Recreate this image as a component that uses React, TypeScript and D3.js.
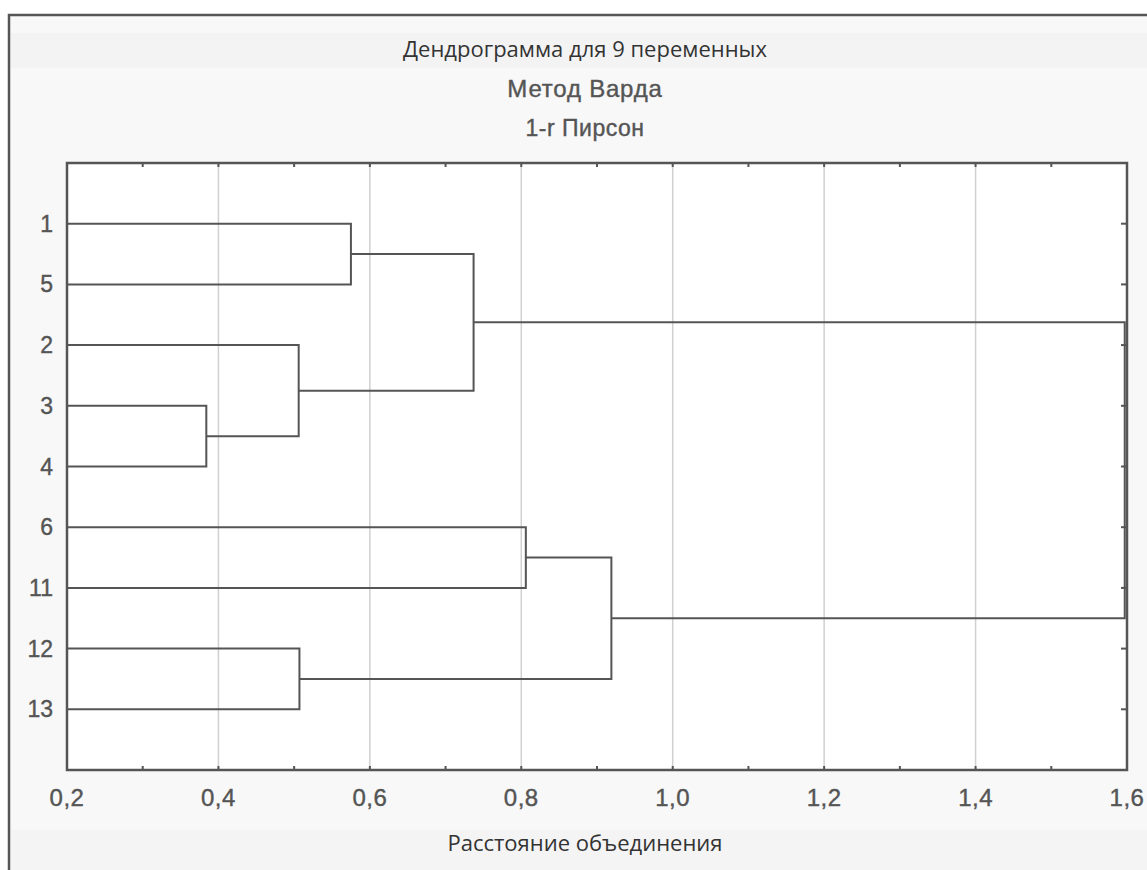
import React from 'react'
import * as d3 from 'd3'

// leaf order as drawn top to bottom
const leafLabels = ['1', '5', '2', '3', '4', '6', '11', '12', '13']

// linkage: node ids 0..8 are leaves, each merge creates id 9, 10, ...
const mergeLeft = [0, 3, 2, 9, 5, 7, 13, 12]
const mergeRight = [1, 4, 10, 11, 6, 8, 14, 15]
const mergeHeight = [0.575, 0.384, 0.506, 0.737, 0.806, 0.507, 0.919, 1.597]

const xTicks = [0.2, 0.4, 0.6, 0.8, 1.0, 1.2, 1.4, 1.6]
const xMinor = [0.3, 0.5, 0.7, 0.9, 1.1, 1.3, 1.5]

const titleLines = ['Дендрограмма для 9 переменных', 'Метод Варда', '1-r Пирсон']
const xTitle = 'Расстояние объединения'

const W = 1147
const H = 870
const plot = { left: 67, right: 1127, top: 163, bottom: 770 }

const LINE = '#555'
const fmt = (v: number) => v.toFixed(1).replace('.', ',')

export default function App() {
  const x = d3.scaleLinear().domain([0.2, 1.6]).range([plot.left, plot.right])
  const y = d3.scaleLinear().domain([0, leafLabels.length + 1]).range([plot.top, plot.bottom])

  // node positions
  const nodes: { x: number; y: number }[] = leafLabels.map((_, i) => ({ x: x(0.2), y: y(i + 1) }))
  const links: string[] = []
  mergeHeight.forEach((h, i) => {
    const a = nodes[mergeLeft[i]]
    const b = nodes[mergeRight[i]]
    const mx = x(h)
    const path = d3.path()
    path.moveTo(a.x, a.y)
    path.lineTo(mx, a.y)
    path.lineTo(mx, b.y)
    path.lineTo(b.x, b.y)
    links.push(path.toString())
    nodes.push({ x: mx, y: (a.y + b.y) / 2 })
  })

  const cx = 585
  const arial = "'Liberation Sans', Arial, sans-serif"
  return (
    <svg width={W} height={H} style={{ position: 'absolute', left: 0, top: 0, background: '#fff' }}>
      <rect x={9} y={15} width={W + 20} height={H + 20} fill="#f8f8f8" stroke={LINE} strokeWidth={2.5} />
      <rect x={11} y={33} width={W} height={35} fill="#f3f3f3" />
      <rect x={11} y={830} width={W} height={50} fill="#f4f4f4" />

      <text x={cx} y={57} textAnchor="middle" fontFamily="'Open Sans', sans-serif" fontSize={22} fill="#333">
        {titleLines[0]}
      </text>
      <text x={cx} y={97} textAnchor="middle" fontFamily={arial} fontSize={24} letterSpacing={0.8} fill="#555" stroke="#555" strokeWidth={0.4}>
        {titleLines[1]}
      </text>
      <text x={cx} y={136} textAnchor="middle" fontFamily={arial} fontSize={23} letterSpacing={0.5} fill="#555" stroke="#555" strokeWidth={0.4}>
        {titleLines[2]}
      </text>

      <rect x={plot.left} y={plot.top} width={plot.right - plot.left} height={plot.bottom - plot.top} fill="#fff" />

      {/* grid */}
      {xTicks.slice(1, -1).map(t => (
        <line key={'g' + t} x1={x(t)} x2={x(t)} y1={plot.top} y2={plot.bottom} stroke="#d0d0d0" strokeWidth={1.5} />
      ))}

      {/* ticks top/bottom */}
      {xTicks.concat(xMinor).map(t => (
        <g key={'t' + t}>
          <line x1={x(t)} x2={x(t)} y1={plot.top} y2={plot.top + 4} stroke={LINE} strokeWidth={2} />
          <line x1={x(t)} x2={x(t)} y1={plot.bottom} y2={plot.bottom - 4} stroke={LINE} strokeWidth={2} />
        </g>
      ))}
      {/* ticks right */}
      {leafLabels.map((_, i) => (
        <line key={'r' + i} x1={plot.right} x2={plot.right - 6} y1={y(i + 1)} y2={y(i + 1)} stroke={LINE} strokeWidth={2} />
      ))}

      {/* dendrogram */}
      {links.map((d, i) => (
        <path key={'l' + i} d={d} fill="none" stroke={LINE} strokeWidth={2} />
      ))}

      <rect x={plot.left} y={plot.top} width={plot.right - plot.left} height={plot.bottom - plot.top} fill="none" stroke={LINE} strokeWidth={2.5} />

      {/* labels */}
      {leafLabels.map((l, i) => (
        <text key={'y' + l} x={53} y={y(i + 1) + 8} textAnchor="end" fontFamily={arial} fontSize={23} fill="#555" stroke="#555" strokeWidth={0.4}>
          {l}
        </text>
      ))}
      {xTicks.map(t => (
        <text key={'x' + t} x={x(t)} y={806} textAnchor="middle" fontFamily={arial} fontSize={24} letterSpacing={0.5} fill="#555" stroke="#555" strokeWidth={0.4}>
          {fmt(t)}
        </text>
      ))}

      <text x={cx} y={851} textAnchor="middle" fontFamily="'Open Sans', sans-serif" fontSize={22} fill="#333">
        {xTitle}
      </text>
    </svg>
  )
}
